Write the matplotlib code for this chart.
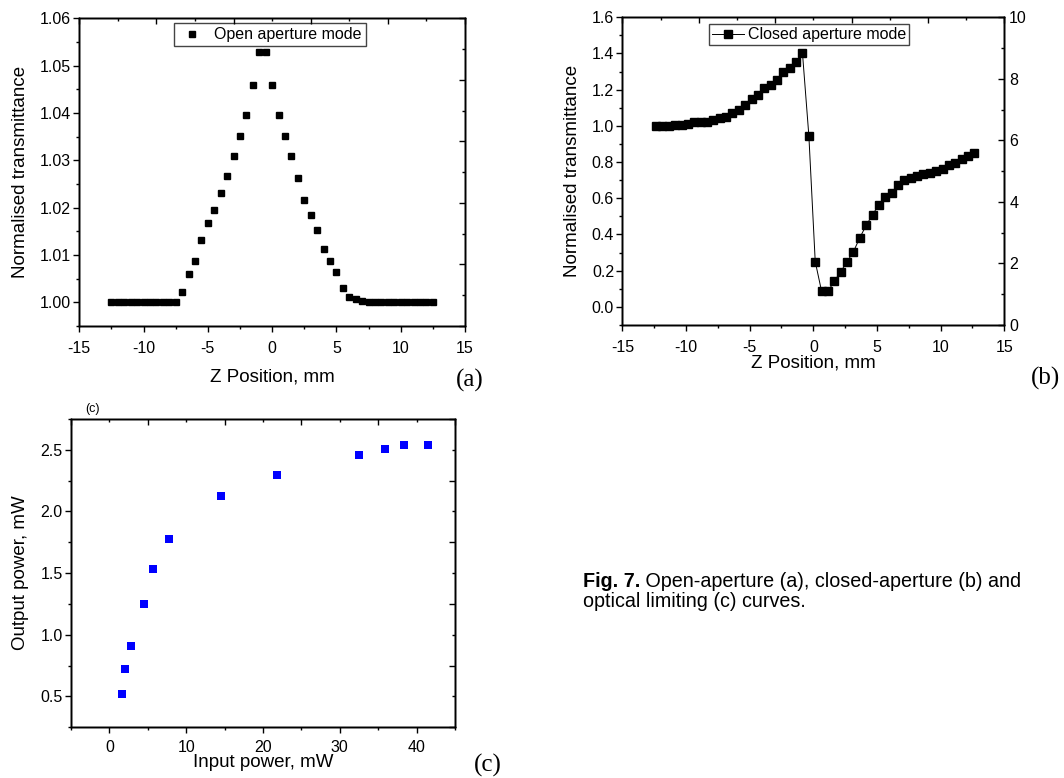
import matplotlib
matplotlib.use('Agg')
import matplotlib.pyplot as plt
from matplotlib.ticker import MultipleLocator

plt.rcParams['font.family'] = ['Liberation Sans', 'DejaVu Sans']
plt.rcParams['axes.linewidth'] = 1.0
plt.rcParams['axes.unicode_minus'] = False

# (a) open aperture Z-scan
z_open = [-12.5, -12.0, -11.5, -11.0, -10.5, -10.0, -9.5, -9.0, -8.5, -8.0, -7.5,
          -7.0, -6.5, -6.0, -5.5, -5.0, -4.5, -4.0, -3.5, -3.0, -2.5, -2.0, -1.5,
          -1.0, -0.5, 0.0, 0.5, 1.0, 1.5, 2.0, 2.5, 3.0, 3.5, 4.0, 4.5, 5.0, 5.5,
          6.0, 6.5, 7.0, 7.5, 8.0, 8.5, 9.0, 9.5, 10.0, 10.5, 11.0, 11.5, 12.0, 12.5]
t_open = [1.0, 1.0, 1.0, 1.0, 1.0, 1.0, 1.0, 1.0, 1.0, 1.0, 1.0,
          1.0022, 1.0060, 1.0087, 1.0131, 1.0167, 1.0196, 1.0231, 1.0266, 1.0310,
          1.0351, 1.0396, 1.0460, 1.0528, 1.0528, 1.0460, 1.0396, 1.0351, 1.0310,
          1.0263, 1.0217, 1.0185, 1.0153, 1.0112, 1.0087, 1.0064, 1.0031, 1.0012,
          1.0006, 1.0002, 1.0, 1.0, 1.0, 1.0, 1.0, 1.0, 1.0, 1.0, 1.0, 1.0, 1.0]

# (b) closed aperture Z-scan
z_closed = [-12.35, -11.85, -11.35, -10.85, -10.35, -9.85, -9.35, -8.85, -8.35,
            -7.85, -7.35, -6.85, -6.35, -5.85, -5.35, -4.85, -4.35, -3.85, -3.35,
            -2.85, -2.35, -1.85, -1.35, -0.85, -0.35, 0.15, 0.65, 1.15, 1.65, 2.15,
            2.65, 3.15, 3.65, 4.15, 4.65, 5.15, 5.65, 6.15, 6.65, 7.15, 7.65, 8.15,
            8.65, 9.15, 9.65, 10.15, 10.65, 11.15, 11.65, 12.15, 12.65]
t_closed = [1.00, 1.00, 1.00, 1.005, 1.005, 1.01, 1.02, 1.02, 1.02,
            1.035, 1.045, 1.05, 1.07, 1.085, 1.115, 1.15, 1.17, 1.21, 1.225,
            1.255, 1.295, 1.32, 1.355, 1.40, 0.945, 0.25, 0.086, 0.086, 0.142, 0.195,
            0.249, 0.305, 0.382, 0.45, 0.509, 0.565, 0.609, 0.631, 0.672, 0.701, 0.712,
            0.723, 0.733, 0.742, 0.749, 0.76, 0.782, 0.793, 0.816, 0.831, 0.849]

# (c) optical limiting
p_in = [1.6, 2.04, 2.78, 4.5, 5.73, 7.72, 14.58, 21.78, 32.45, 35.88, 38.4, 41.47]
p_out = [0.516, 0.72, 0.913, 1.249, 1.53, 1.773, 2.122, 2.297, 2.454, 2.505, 2.54, 2.54]

TICK_FS = 11.5
LABEL_FS = 13.5


def style_axes(ax, right_labels=False, xpad=6):
    """Origin-like frame: outer ticks left/bottom, inner ticks on a 0-10 top/right frame"""
    ax.tick_params(which='both', direction='out', labelsize=TICK_FS, width=1.0)
    ax.tick_params(which='major', length=4.5)
    ax.tick_params(which='minor', length=2.5)
    ax.tick_params(axis='y', pad=1.5)
    ax.tick_params(axis='x', pad=xpad)
    top = ax.twiny()
    top.set_xlim(0, 10)
    top.xaxis.set_major_locator(MultipleLocator(2))
    top.xaxis.set_minor_locator(MultipleLocator(1))
    top.tick_params(which='both', direction='in', labeltop=False, width=1.0)
    top.tick_params(which='major', length=4.5)
    top.tick_params(which='minor', length=2.5)
    right = ax.twinx()
    right.set_ylim(0, 10)
    right.yaxis.set_major_locator(MultipleLocator(2))
    right.yaxis.set_minor_locator(MultipleLocator(1))
    right.tick_params(which='both', direction='in', labelright=right_labels,
                      labelsize=TICK_FS, width=1.0)
    right.tick_params(which='major', length=4.5)
    right.tick_params(which='minor', length=2.5)


fig = plt.figure(figsize=(10.64, 7.78), dpi=100)

# panel (a)
ax_a = fig.add_axes([0.0745, 0.581, 0.3625, 0.3955])
ax_a.plot(z_open, t_open, 's', color='black', markersize=5, label='Open aperture mode')
ax_a.set_xlim(-15, 15)
ax_a.set_ylim(0.995, 1.06)
ax_a.xaxis.set_major_locator(MultipleLocator(5))
ax_a.xaxis.set_minor_locator(MultipleLocator(2.5))
ax_a.yaxis.set_major_locator(MultipleLocator(0.01))
ax_a.yaxis.set_minor_locator(MultipleLocator(0.005))
ax_a.yaxis.set_major_formatter(plt.FormatStrFormatter('%.2f'))
ax_a.set_xlabel('Z Position, mm', fontsize=LABEL_FS, labelpad=9)
ax_a.set_ylabel('Normalised transmittance', fontsize=LABEL_FS, labelpad=8)
ax_a.legend(loc='upper center', bbox_to_anchor=(0.494, 0.984), borderaxespad=0,
            fontsize=TICK_FS, frameon=True, fancybox=False, edgecolor='#444444',
            framealpha=1, handlelength=1.8, handletextpad=0.5, borderpad=0.25)
style_axes(ax_a)

# panel (b)
ax_b = fig.add_axes([0.5849, 0.5823, 0.359, 0.3955])
ax_b.plot(z_closed, t_closed, '-s', color='black', linewidth=0.7, markersize=5.6,
          label='Closed aperture mode')
ax_b.set_xlim(-15, 15)
ax_b.set_ylim(-0.1, 1.6)
ax_b.xaxis.set_major_locator(MultipleLocator(5))
ax_b.xaxis.set_minor_locator(MultipleLocator(2.5))
ax_b.yaxis.set_major_locator(MultipleLocator(0.2))
ax_b.yaxis.set_minor_locator(MultipleLocator(0.1))
ax_b.yaxis.set_major_formatter(plt.FormatStrFormatter('%.1f'))
ax_b.set_xlabel('Z Position, mm', fontsize=LABEL_FS, labelpad=0)
ax_b.set_ylabel('Normalised transmittance', fontsize=LABEL_FS, labelpad=8)
ax_b.legend(loc='upper center', bbox_to_anchor=(0.489, 0.978), borderaxespad=0,
            fontsize=TICK_FS, frameon=True, fancybox=False, edgecolor='#444444',
            framealpha=1, handlelength=2.0, handletextpad=0.2, borderpad=0.2)
style_axes(ax_b, right_labels=True)

# panel (c)
ax_c = fig.add_axes([0.0667, 0.0652, 0.3609, 0.3963])
ax_c.plot(p_in, p_out, 's', color='#0000ff', markersize=5.8, markeredgewidth=0)
ax_c.set_xlim(-5, 45)
ax_c.set_ylim(0.25, 2.75)
ax_c.xaxis.set_major_locator(MultipleLocator(10))
ax_c.xaxis.set_minor_locator(MultipleLocator(5))
ax_c.yaxis.set_major_locator(MultipleLocator(0.5))
ax_c.yaxis.set_minor_locator(MultipleLocator(0.25))
ax_c.yaxis.set_major_formatter(plt.FormatStrFormatter('%.1f'))
ax_c.set_xlabel('Input power, mW', fontsize=LABEL_FS, labelpad=-0.8)
ax_c.set_ylabel('Output power, mW', fontsize=LABEL_FS, labelpad=8)
ax_c.text(0.055, 1.012, '(c)', transform=ax_c.transAxes, fontsize=9,
          ha='center', va='bottom')
style_axes(ax_c, xpad=5)

# panel letters
serif = ['Liberation Serif', 'DejaVu Serif']
fig.text(470 / 1064, 1 - 380 / 778, '(a)', family=serif, fontsize=18, ha='center', va='center')
fig.text(1046 / 1064, 1 - 378 / 778, '(b)', family=serif, fontsize=18, ha='center', va='center')
fig.text(488 / 1064, 1 - 765 / 778, '(c)', family=serif, fontsize=18, ha='center', va='center')

# caption
cap_x, cap_y = 583 / 1064, 1 - 587 / 778
t1 = fig.text(cap_x, cap_y, 'Fig. 7.', fontsize=14.2, weight='bold', va='baseline')
r = fig.canvas.get_renderer()
bb = t1.get_window_extent(r)
fig.text(bb.x1 / fig.bbox.width, cap_y, ' Open-aperture (a), closed-aperture (b) and',
         fontsize=14.2, va='baseline')
fig.text(cap_x, cap_y - 20 / 778, 'optical limiting (c) curves.', fontsize=14.2, va='baseline')

fig.savefig('out.png', dpi=100)
